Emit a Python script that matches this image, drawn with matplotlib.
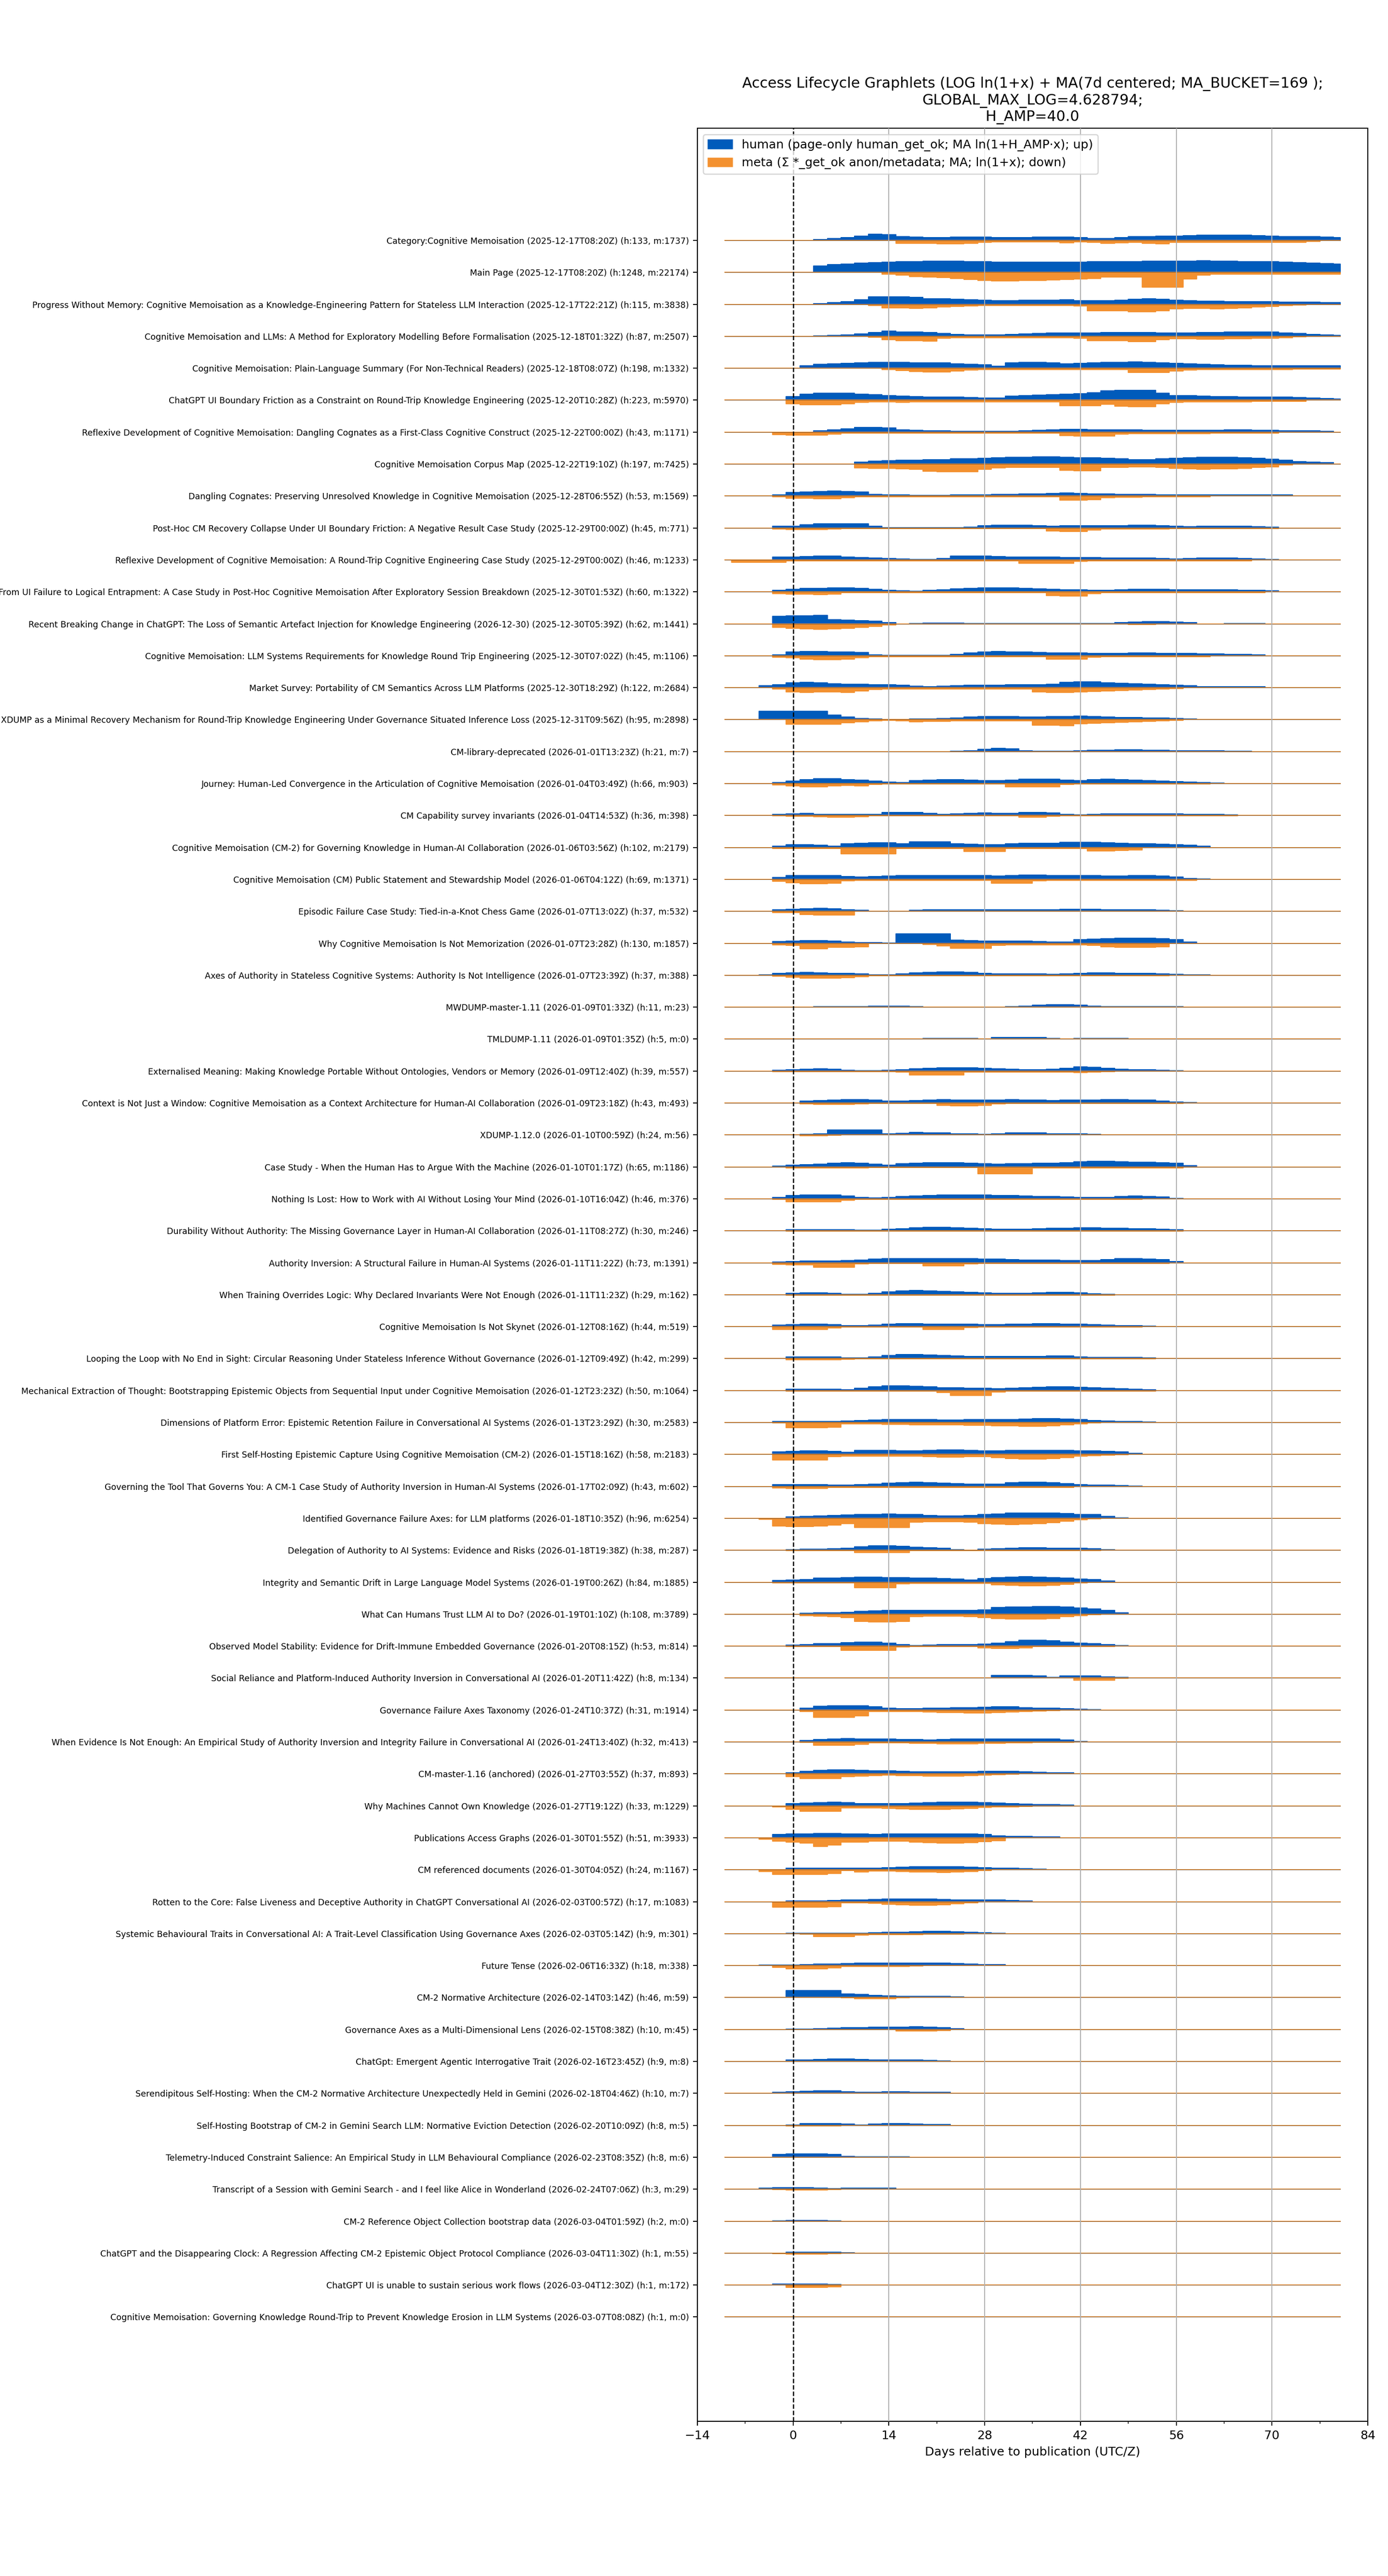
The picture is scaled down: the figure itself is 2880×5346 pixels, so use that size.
import matplotlib
matplotlib.use("Agg")
import matplotlib.pyplot as plt
import numpy as np
from matplotlib.patches import Patch
from matplotlib.ticker import MultipleLocator

BLUE = "#005bbb"
ORANGE = "#f39130"

TITLE = ("Access Lifecycle Graphlets (LOG ln(1+x) + MA(7d centered; MA_BUCKET=169 );\n"
         "GLOBAL_MAX_LOG=4.628794;\nH_AMP=40.0")

LABELS = [
    "Category:Cognitive Memoisation (2025-12-17T08:20Z) (h:133, m:1737)",
    "Main Page (2025-12-17T08:20Z) (h:1248, m:22174)",
    "Progress Without Memory: Cognitive Memoisation as a Knowledge-Engineering Pattern for Stateless LLM Interaction (2025-12-17T22:21Z) (h:115, m:3838)",
    "Cognitive Memoisation and LLMs: A Method for Exploratory Modelling Before Formalisation (2025-12-18T01:32Z) (h:87, m:2507)",
    "Cognitive Memoisation: Plain-Language Summary (For Non-Technical Readers) (2025-12-18T08:07Z) (h:198, m:1332)",
    "ChatGPT UI Boundary Friction as a Constraint on Round-Trip Knowledge Engineering (2025-12-20T10:28Z) (h:223, m:5970)",
    "Reflexive Development of Cognitive Memoisation: Dangling Cognates as a First-Class Cognitive Construct (2025-12-22T00:00Z) (h:43, m:1171)",
    "Cognitive Memoisation Corpus Map (2025-12-22T19:10Z) (h:197, m:7425)",
    "Dangling Cognates: Preserving Unresolved Knowledge in Cognitive Memoisation (2025-12-28T06:55Z) (h:53, m:1569)",
    "Post-Hoc CM Recovery Collapse Under UI Boundary Friction: A Negative Result Case Study (2025-12-29T00:00Z) (h:45, m:771)",
    "Reflexive Development of Cognitive Memoisation: A Round-Trip Cognitive Engineering Case Study (2025-12-29T00:00Z) (h:46, m:1233)",
    "From UI Failure to Logical Entrapment: A Case Study in Post-Hoc Cognitive Memoisation After Exploratory Session Breakdown (2025-12-30T01:53Z) (h:60, m:1322)",
    "Recent Breaking Change in ChatGPT: The Loss of Semantic Artefact Injection for Knowledge Engineering (2026-12-30) (2025-12-30T05:39Z) (h:62, m:1441)",
    "Cognitive Memoisation: LLM Systems Requirements for Knowledge Round Trip Engineering (2025-12-30T07:02Z) (h:45, m:1106)",
    "Market Survey: Portability of CM Semantics Across LLM Platforms (2025-12-30T18:29Z) (h:122, m:2684)",
    "XDUMP as a Minimal Recovery Mechanism for Round-Trip Knowledge Engineering Under Governance Situated Inference Loss (2025-12-31T09:56Z) (h:95, m:2898)",
    "CM-library-deprecated (2026-01-01T13:23Z) (h:21, m:7)",
    "Journey: Human-Led Convergence in the Articulation of Cognitive Memoisation (2026-01-04T03:49Z) (h:66, m:903)",
    "CM Capability survey invariants (2026-01-04T14:53Z) (h:36, m:398)",
    "Cognitive Memoisation (CM-2) for Governing Knowledge in Human-AI Collaboration (2026-01-06T03:56Z) (h:102, m:2179)",
    "Cognitive Memoisation (CM) Public Statement and Stewardship Model (2026-01-06T04:12Z) (h:69, m:1371)",
    "Episodic Failure Case Study: Tied-in-a-Knot Chess Game (2026-01-07T13:02Z) (h:37, m:532)",
    "Why Cognitive Memoisation Is Not Memorization (2026-01-07T23:28Z) (h:130, m:1857)",
    "Axes of Authority in Stateless Cognitive Systems: Authority Is Not Intelligence (2026-01-07T23:39Z) (h:37, m:388)",
    "MWDUMP-master-1.11 (2026-01-09T01:33Z) (h:11, m:23)",
    "TMLDUMP-1.11 (2026-01-09T01:35Z) (h:5, m:0)",
    "Externalised Meaning: Making Knowledge Portable Without Ontologies, Vendors or Memory (2026-01-09T12:40Z) (h:39, m:557)",
    "Context is Not Just a Window: Cognitive Memoisation as a Context Architecture for Human-AI Collaboration (2026-01-09T23:18Z) (h:43, m:493)",
    "XDUMP-1.12.0 (2026-01-10T00:59Z) (h:24, m:56)",
    "Case Study - When the Human Has to Argue With the Machine (2026-01-10T01:17Z) (h:65, m:1186)",
    "Nothing Is Lost: How to Work with AI Without Losing Your Mind (2026-01-10T16:04Z) (h:46, m:376)",
    "Durability Without Authority: The Missing Governance Layer in Human-AI Collaboration (2026-01-11T08:27Z) (h:30, m:246)",
    "Authority Inversion: A Structural Failure in Human-AI Systems (2026-01-11T11:22Z) (h:73, m:1391)",
    "When Training Overrides Logic: Why Declared Invariants Were Not Enough (2026-01-11T11:23Z) (h:29, m:162)",
    "Cognitive Memoisation Is Not Skynet (2026-01-12T08:16Z) (h:44, m:519)",
    "Looping the Loop with No End in Sight: Circular Reasoning Under Stateless Inference Without Governance (2026-01-12T09:49Z) (h:42, m:299)",
    "Mechanical Extraction of Thought: Bootstrapping Epistemic Objects from Sequential Input under Cognitive Memoisation (2026-01-12T23:23Z) (h:50, m:1064)",
    "Dimensions of Platform Error: Epistemic Retention Failure in Conversational AI Systems (2026-01-13T23:29Z) (h:30, m:2583)",
    "First Self-Hosting Epistemic Capture Using Cognitive Memoisation (CM-2) (2026-01-15T18:16Z) (h:58, m:2183)",
    "Governing the Tool That Governs You: A CM-1 Case Study of Authority Inversion in Human-AI Systems (2026-01-17T02:09Z) (h:43, m:602)",
    "Identified Governance Failure Axes: for LLM platforms (2026-01-18T10:35Z) (h:96, m:6254)",
    "Delegation of Authority to AI Systems: Evidence and Risks (2026-01-18T19:38Z) (h:38, m:287)",
    "Integrity and Semantic Drift in Large Language Model Systems (2026-01-19T00:26Z) (h:84, m:1885)",
    "What Can Humans Trust LLM AI to Do? (2026-01-19T01:10Z) (h:108, m:3789)",
    "Observed Model Stability: Evidence for Drift-Immune Embedded Governance (2026-01-20T08:15Z) (h:53, m:814)",
    "Social Reliance and Platform-Induced Authority Inversion in Conversational AI (2026-01-20T11:42Z) (h:8, m:134)",
    "Governance Failure Axes Taxonomy (2026-01-24T10:37Z) (h:31, m:1914)",
    "When Evidence Is Not Enough: An Empirical Study of Authority Inversion and Integrity Failure in Conversational AI (2026-01-24T13:40Z) (h:32, m:413)",
    "CM-master-1.16 (anchored) (2026-01-27T03:55Z) (h:37, m:893)",
    "Why Machines Cannot Own Knowledge (2026-01-27T19:12Z) (h:33, m:1229)",
    "Publications Access Graphs (2026-01-30T01:55Z) (h:51, m:3933)",
    "CM referenced documents (2026-01-30T04:05Z) (h:24, m:1167)",
    "Rotten to the Core: False Liveness and Deceptive Authority in ChatGPT Conversational AI (2026-02-03T00:57Z) (h:17, m:1083)",
    "Systemic Behavioural Traits in Conversational AI: A Trait-Level Classification Using Governance Axes (2026-02-03T05:14Z) (h:9, m:301)",
    "Future Tense (2026-02-06T16:33Z) (h:18, m:338)",
    "CM-2 Normative Architecture (2026-02-14T03:14Z) (h:46, m:59)",
    "Governance Axes as a Multi-Dimensional Lens (2026-02-15T08:38Z) (h:10, m:45)",
    "ChatGpt: Emergent Agentic Interrogative Trait (2026-02-16T23:45Z) (h:9, m:8)",
    "Serendipitous Self-Hosting: When the CM-2 Normative Architecture Unexpectedly Held in Gemini (2026-02-18T04:46Z) (h:10, m:7)",
    "Self-Hosting Bootstrap of CM-2 in Gemini Search LLM: Normative Eviction Detection (2026-02-20T10:09Z) (h:8, m:5)",
    "Telemetry-Induced Constraint Salience: An Empirical Study in LLM Behavioural Compliance (2026-02-23T08:35Z) (h:8, m:6)",
    "Transcript of a Session with Gemini Search - and I feel like Alice in Wonderland (2026-02-24T07:06Z) (h:3, m:29)",
    "CM-2 Reference Object Collection bootstrap data (2026-03-04T01:59Z) (h:2, m:0)",
    "ChatGPT and the Disappearing Clock: A Regression Affecting CM-2 Epistemic Object Protocol Compliance (2026-03-04T11:30Z) (h:1, m:55)",
    "ChatGPT UI is unable to sustain serious work flows (2026-03-04T12:30Z) (h:1, m:172)",
    "Cognitive Memoisation: Governing Knowledge Round-Trip to Prevent Knowledge Erosion in LLM Systems (2026-03-07T08:08Z) (h:1, m:0)",
]

# sample days (every 2 days, relative to publication)
DAYS = list(range(-10, 81, 2))

# smoothed heights, one entry per row:
# (first sampled day, values every 2 days from there; zero elsewhere)
HUMAN = [
    (4, [2, 4, 6, 10, 14, 13, 9, 7, 6, 6, 7, 7, 7, 6, 6, 6, 7, 7, 7, 6, 4, 4, 6, 8, 9, 10, 10, 11, 12, 12, 12, 12, 11, 10, 9, 9, 8, 7, 6]),
    (4, [14, 17, 19, 21, 22, 23, 24, 24, 25, 25, 25, 24, 24, 23, 23, 23, 23, 23, 23, 23, 24, 24, 24, 24, 25, 25, 25, 25, 26, 25, 25, 24, 24, 24, 23, 22, 21, 20, 19]),
    (4, [2, 4, 6, 10, 17, 17, 17, 16, 12, 12, 11, 10, 9, 8, 8, 9, 9, 9, 10, 8, 8, 8, 9, 11, 12, 11, 9, 8, 7, 7, 6, 6, 6, 6, 5, 5, 5, 4, 4]),
    (4, [1, 2, 3, 5, 8, 12, 10, 9, 8, 6, 4, 3, 3, 3, 4, 5, 6, 7, 7, 7, 7, 8, 8, 8, 8, 7, 7, 7, 8, 8, 9, 10, 10, 9, 7, 6, 4, 3, 2]),
    (2, [5, 9, 10, 11, 12, 13, 13, 13, 12, 12, 12, 10, 9, 8, 4, 12, 13, 13, 12, 10, 11, 12, 13, 13, 14, 13, 12, 11, 10, 9, 8, 7, 7, 6, 6, 6, 6, 6, 6, 5]),
    (0, [8, 13, 16, 16, 16, 13, 12, 10, 9, 8, 7, 7, 7, 6, 5, 5, 9, 10, 11, 12, 13, 14, 17, 21, 22, 22, 22, 16, 10, 10, 9, 8, 8, 7, 7, 7, 7, 6, 5, 4, 3]),
    (4, [3, 5, 7, 10, 10, 9, 5, 4, 3, 3, 2, 2, 2, 2, 2, 3, 4, 5, 6, 6, 5, 5, 5, 5, 4, 4, 4, 4, 4, 4, 5, 5, 4, 4, 3, 3, 3, 2]),
    (10, [4, 6, 8, 9, 9, 10, 10, 12, 12, 13, 14, 15, 15, 16, 16, 15, 14, 14, 13, 12, 10, 10, 12, 13, 14, 15, 15, 15, 14, 13, 11, 9, 5, 4, 3]),
    (-2, [2, 8, 9, 10, 11, 10, 9, 4, 3, 3, 1, 1, 1, 2, 2, 3, 4, 4, 5, 5, 6, 7, 6, 5, 5, 4, 4, 4, 3, 3, 2, 2, 3, 3, 3, 3, 2, 2]),
    (-2, [4, 4, 7, 9, 9, 9, 9, 4, 1, 1, 1, 1, 1, 1, 2, 5, 6, 6, 6, 5, 4, 5, 5, 5, 5, 5, 6, 6, 5, 4, 3, 4, 4, 4, 4, 3, 2]),
    (-2, [6, 6, 7, 8, 9, 6, 5, 4, 3, 2, 1, 1, 3, 9, 9, 9, 7, 6, 6, 6, 6, 5, 5, 5, 4, 4, 4, 4, 3, 2, 3, 4, 4, 4, 3, 2, 1]),
    (-2, [3, 6, 8, 8, 9, 9, 8, 6, 4, 2, 1, 3, 5, 7, 8, 9, 9, 9, 8, 7, 6, 5, 5, 4, 4, 5, 6, 6, 6, 5, 5, 5, 5, 5, 4, 3, 2]),
    (-2, [17, 18, 18, 19, 9, 8, 7, 6, 3, 0, 1, 2, 2, 2, 1, 1, 1, 1, 1, 1, 1, 1, 1, 1, 1, 3, 4, 5, 5, 4, 3, 0, 0, 1, 1, 1]),
    (-2, [2, 8, 9, 9, 8, 8, 7, 2, 1, 1, 1, 1, 1, 3, 6, 8, 9, 8, 8, 7, 6, 6, 6, 5, 5, 5, 6, 6, 5, 5, 5, 4, 4, 3, 3, 2]),
    (-4, [4, 7, 11, 12, 11, 9, 8, 8, 7, 7, 5, 3, 2, 3, 4, 5, 6, 6, 7, 7, 7, 8, 12, 13, 13, 11, 10, 9, 8, 7, 6, 4, 2, 2, 2, 2, 2]),
    (-4, [19, 19, 19, 19, 19, 10, 6, 3, 2, 0, 1, 2, 2, 3, 4, 6, 7, 7, 7, 6, 6, 7, 7, 8, 7, 6, 5, 5, 4, 4, 3, 2, 1]),
    (24, [1, 2, 5, 7, 6, 2, 1, 1, 1, 2, 3, 3, 4, 4, 3, 3, 2, 2, 2, 2, 1, 1]),
    (-2, [2, 5, 9, 11, 11, 9, 8, 5, 3, 2, 6, 8, 9, 9, 8, 6, 6, 8, 10, 10, 10, 8, 7, 9, 10, 9, 8, 6, 5, 4, 3, 2, 1]),
    (-2, [3, 4, 5, 3, 2, 2, 2, 3, 7, 7, 7, 5, 3, 4, 5, 6, 5, 5, 7, 7, 6, 3, 1, 3, 4, 4, 4, 4, 4, 4, 3, 3, 2, 1]),
    (-2, [3, 6, 6, 5, 3, 8, 9, 10, 10, 8, 13, 13, 13, 8, 7, 6, 6, 8, 9, 9, 9, 11, 11, 11, 10, 9, 8, 8, 7, 6, 5, 3]),
    (-2, [4, 8, 9, 9, 8, 6, 5, 6, 7, 8, 8, 8, 8, 8, 8, 8, 7, 9, 10, 10, 9, 8, 8, 8, 7, 7, 8, 8, 7, 5, 2, 1]),
    (-2, [3, 5, 6, 7, 6, 4, 2, 0, 0, 0, 2, 3, 3, 4, 4, 4, 4, 4, 4, 4, 4, 5, 5, 5, 4, 4, 3, 3, 2, 1]),
    (-2, [4, 5, 6, 6, 5, 3, 2, 2, 1, 21, 21, 21, 21, 7, 6, 5, 5, 5, 5, 4, 3, 3, 8, 9, 10, 11, 11, 11, 10, 8, 3]),
    (-4, [1, 4, 5, 6, 5, 4, 4, 3, 1, 1, 3, 5, 6, 7, 7, 6, 4, 3, 3, 3, 3, 2, 3, 4, 5, 5, 4, 4, 4, 3, 2, 1, 1]),
    (4, [1, 1, 1, 1, 2, 2, 2, 1, 0, 0, 0, 0, 0, 0, 1, 2, 4, 5, 5, 4, 2, 1, 1, 1, 1, 1, 1]),
    (20, [2, 2, 2, 2, 1, 4, 4, 4, 4, 2, 0, 2, 2, 2, 2]),
    (-2, [2, 3, 4, 5, 4, 2, 1, 1, 2, 3, 5, 6, 7, 7, 7, 6, 5, 4, 3, 3, 4, 6, 9, 8, 6, 4, 3, 3, 2, 1]),
    (2, [4, 5, 6, 8, 8, 7, 4, 4, 5, 7, 8, 7, 6, 6, 7, 8, 7, 6, 5, 6, 7, 7, 8, 8, 7, 6, 4, 2, 1]),
    (2, [1, 2, 11, 11, 11, 11, 3, 4, 6, 5, 5, 3, 2, 1, 2, 5, 5, 5, 3, 2, 2, 1]),
    (-2, [2, 4, 5, 6, 8, 9, 8, 6, 4, 7, 8, 9, 9, 9, 8, 7, 6, 7, 7, 8, 8, 9, 11, 12, 12, 11, 10, 10, 9, 8, 3]),
    (-2, [3, 7, 9, 9, 8, 6, 3, 2, 3, 5, 6, 7, 8, 9, 8, 8, 7, 7, 6, 5, 5, 4, 3, 3, 3, 5, 6, 5, 4, 1]),
    (0, [2, 2, 2, 2, 2, 1, 1, 3, 5, 7, 8, 8, 7, 6, 5, 4, 4, 4, 5, 6, 6, 7, 7, 6, 6, 5, 5, 4, 2]),
    (-2, [2, 3, 4, 4, 4, 5, 6, 8, 9, 9, 9, 9, 9, 9, 9, 8, 8, 7, 6, 6, 6, 5, 5, 5, 7, 9, 9, 8, 7, 3]),
    (0, [3, 4, 4, 3, 1, 1, 3, 6, 8, 9, 8, 7, 6, 5, 4, 3, 3, 3, 4, 5, 5, 4, 2, 1]),
    (-2, [3, 4, 5, 5, 4, 2, 2, 3, 6, 7, 7, 6, 6, 6, 5, 4, 4, 5, 6, 7, 7, 6, 5, 4, 3, 2, 2, 1]),
    (0, [4, 4, 4, 4, 2, 2, 4, 7, 9, 9, 8, 7, 6, 5, 5, 5, 5, 5, 5, 6, 6, 4, 3, 3, 3, 3, 2]),
    (0, [3, 3, 3, 3, 2, 5, 8, 10, 10, 9, 8, 6, 6, 5, 5, 4, 5, 6, 7, 8, 8, 7, 6, 5, 4, 3, 2]),
    (-2, [2, 2, 2, 2, 2, 3, 4, 5, 7, 7, 7, 6, 5, 5, 6, 6, 6, 7, 8, 9, 9, 8, 6, 4, 3, 2, 2, 1]),
    (-2, [6, 7, 8, 8, 7, 5, 9, 9, 9, 8, 8, 9, 10, 10, 9, 8, 8, 9, 9, 9, 9, 9, 8, 8, 7, 6, 2]),
    (-2, [4, 4, 4, 4, 3, 3, 4, 5, 7, 8, 9, 8, 7, 6, 5, 5, 5, 8, 9, 9, 8, 6, 4, 3, 3, 2, 1]),
    (0, [3, 4, 5, 6, 7, 9, 9, 10, 9, 8, 6, 5, 5, 6, 8, 10, 12, 12, 12, 12, 11, 9, 8, 4, 1]),
    (0, [1, 2, 2, 3, 5, 8, 10, 10, 9, 7, 6, 5, 1, 0, 2, 4, 5, 6, 6, 5, 5, 5, 3, 1]),
    (-2, [4, 5, 6, 9, 9, 10, 11, 11, 10, 10, 9, 9, 8, 7, 5, 8, 10, 11, 12, 11, 10, 9, 7, 6, 3]),
    (2, [2, 3, 3, 4, 6, 7, 8, 8, 8, 8, 8, 8, 8, 9, 15, 16, 16, 17, 17, 16, 14, 12, 8, 3]),
    (0, [2, 3, 5, 6, 8, 9, 9, 7, 3, 1, 2, 3, 3, 3, 4, 7, 10, 13, 13, 12, 9, 7, 6, 3, 1]),
    (28, [1, 6, 6, 6, 5, 2, 5, 5, 5, 3, 2]),
    (2, [4, 8, 9, 9, 9, 7, 4, 3, 3, 4, 4, 5, 5, 6, 7, 7, 5, 4, 4, 3, 2, 1]),
    (2, [3, 5, 7, 8, 7, 6, 6, 5, 5, 4, 5, 6, 6, 6, 6, 6, 7, 7, 6, 4, 1]),
    (0, [3, 6, 8, 9, 9, 8, 7, 7, 6, 5, 5, 5, 5, 5, 6, 6, 6, 5, 4, 3, 2]),
    (0, [5, 6, 7, 8, 7, 5, 5, 5, 5, 6, 7, 8, 8, 8, 7, 6, 5, 4, 3, 3, 2]),
    (-2, [7, 8, 9, 10, 10, 9, 8, 7, 8, 8, 8, 9, 9, 9, 9, 7, 4, 3, 3, 2, 2]),
    (0, [3, 3, 4, 4, 4, 3, 4, 5, 6, 7, 7, 7, 7, 6, 5, 4, 3, 2, 1]),
    (0, [2, 2, 2, 3, 4, 4, 5, 6, 6, 6, 6, 5, 4, 4, 4, 4, 3, 2]),
    (0, [1, 1, 1, 1, 1, 1, 2, 3, 3, 4, 5, 5, 4, 3, 2, 1]),
    (-4, [1, 1, 1, 2, 3, 3, 4, 5, 5, 6, 6, 6, 5, 5, 4, 3, 2, 2]),
    (0, [15, 15, 15, 15, 8, 7, 5, 4, 3, 3, 3, 3, 2, 1]),
    (0, [1, 1, 2, 3, 4, 4, 5, 5, 5, 6, 5, 4, 2]),
    (0, [3, 3, 4, 5, 5, 4, 3, 3, 3, 3, 2, 1]),
    (-2, [2, 4, 5, 6, 6, 4, 3, 2, 4, 4, 3, 2, 2]),
    (0, [1, 4, 4, 4, 3, 1, 3, 4, 4, 3, 2, 2]),
    (-2, [6, 7, 7, 7, 6, 2, 1, 1, 1, 1]),
    (-4, [2, 3, 3, 3, 2, 1, 2, 2, 2, 2]),
    (-2, [1, 2, 2, 2, 1]),
    (0, [2, 2, 2, 2, 1]),
    (-2, [2, 2, 2, 2, 1]),
    (-4, [1, 1, 1, 1]),
]

META = [
    (16, [6, 7, 6, 8, 8, 7, 4, 3, 3, 3, 3, 3, 5, 3, 4, 6, 5, 4, 7, 8, 4, 4, 4, 4, 4, 4, 4, 4, 4, 4, 2]),
    (14, [4, 6, 9, 11, 12, 14, 16, 18, 19, 19, 18, 18, 17, 16, 15, 14, 11, 10, 10, 33, 33, 33, 15, 6, 4, 4, 4, 4, 4, 4, 4, 4, 4, 4]),
    (12, [3, 8, 8, 9, 8, 6, 5, 4, 3, 3, 3, 3, 3, 3, 3, 4, 14, 14, 14, 17, 17, 14, 10, 9, 9, 10, 9, 8, 6, 5, 3, 2, 1]),
    (12, [2, 8, 10, 10, 11, 4, 3, 3, 3, 3, 3, 3, 3, 3, 3, 4, 10, 10, 10, 12, 12, 8, 6, 6, 7, 7, 6, 6, 5, 4, 3, 1]),
    (14, [3, 5, 7, 8, 8, 6, 4, 3, 3, 3, 3, 3, 3, 3, 3, 3, 3, 3, 10, 10, 10, 6, 4, 3, 3, 3, 3, 3, 3, 3, 2, 2, 2, 2]),
    (0, [8, 10, 10, 10, 8, 5, 4, 4, 5, 4, 4, 4, 4, 4, 4, 4, 4, 4, 4, 4, 12, 12, 12, 9, 14, 15, 15, 8, 5, 4, 4, 4, 4, 4, 3, 3, 3, 3]),
    (-2, [6, 7, 7, 7, 5, 2, 2, 2, 2, 2, 2, 2, 2, 2, 2, 2, 2, 2, 2, 2, 2, 8, 9, 9, 9, 5, 4, 3, 3, 3, 3, 3, 2, 2, 2, 2, 2]),
    (10, [9, 10, 10, 11, 12, 16, 17, 17, 17, 12, 9, 8, 7, 7, 7, 14, 15, 15, 8, 7, 6, 6, 7, 10, 11, 12, 11, 11, 10, 8, 6, 2]),
    (-2, [2, 5, 5, 6, 6, 4, 2, 2, 2, 2, 2, 2, 2, 2, 2, 2, 2, 2, 2, 2, 2, 9, 9, 8, 4, 3, 3, 2, 2, 2, 2, 2]),
    (-2, [3, 4, 4, 4, 3, 1, 1, 1, 1, 1, 1, 1, 1, 1, 1, 1, 1, 1, 1, 1, 7, 8, 8, 5, 2, 2, 2, 2, 2, 1, 1, 1, 1, 1, 1, 1, 1]),
    (-8, [5, 5, 5, 5, 2, 2, 2, 2, 2, 2, 2, 2, 2, 2, 2, 2, 2, 2, 2, 2, 2, 8, 8, 8, 8, 3, 2, 2, 2, 2, 2, 2, 2, 2, 2, 2, 2, 2]),
    (-2, [4, 5, 5, 6, 5, 2, 2, 2, 2, 2, 2, 2, 2, 2, 2, 2, 2, 2, 2, 2, 8, 9, 9, 4, 2, 2, 2, 2, 2, 2, 2, 2, 2, 2, 2, 2]),
    (-2, [8, 10, 11, 12, 11, 10, 8, 6, 3, 1, 1, 1, 1, 1, 1, 1, 1, 1, 1, 1, 1, 1, 1, 1, 1, 1, 2, 2, 1, 1, 1]),
    (-2, [3, 5, 8, 9, 9, 8, 5, 2, 2, 2, 2, 2, 2, 2, 2, 2, 2, 2, 2, 2, 8, 8, 8, 3, 2, 2, 2, 2, 2, 2, 2, 2]),
    (-2, [3, 10, 11, 10, 10, 11, 7, 4, 3, 3, 3, 3, 3, 3, 3, 3, 3, 3, 3, 10, 11, 11, 9, 8, 7, 6, 5, 4, 3, 2]),
    (0, [10, 10, 10, 10, 7, 5, 3, 2, 3, 5, 4, 4, 3, 3, 3, 3, 3, 3, 12, 12, 14, 9, 8, 7, 6, 5, 4, 3, 2]),
    (0, []),
    (-2, [3, 5, 7, 7, 5, 4, 5, 2, 1, 1, 1, 1, 1, 1, 1, 1, 1, 7, 7, 7, 7, 2, 1, 1, 1, 1, 1, 1, 1, 1, 1, 1]),
    (-2, [1, 2, 2, 3, 4, 4, 3, 1, 1, 1, 1, 1, 1, 1, 1, 1, 1, 1, 4, 4, 2, 1, 1, 1, 1, 1, 1, 1, 1, 1, 1, 1, 1, 1]),
    (-2, [2, 3, 3, 3, 3, 14, 14, 14, 14, 3, 3, 3, 3, 3, 9, 9, 9, 3, 3, 3, 3, 3, 3, 8, 8, 7, 6]),
    (-2, [4, 8, 10, 10, 9, 3, 2, 2, 2, 2, 2, 2, 2, 2, 2, 2, 9, 9, 9, 3, 2, 2, 2, 2, 2, 2, 2, 2, 2, 2, 2]),
    (-2, [3, 3, 7, 8, 8, 8]),
    (-2, [4, 5, 12, 12, 9, 9, 8, 1, 1, 1, 1, 3, 6, 11, 11, 11, 5, 4, 4, 4, 4, 4, 4, 5, 8, 9, 9, 9, 8]),
    (-2, [2, 5, 7, 7, 7, 6, 3, 1, 1, 1, 1, 1, 1, 1, 1, 1, 1, 1, 1, 1, 1, 1, 1, 1, 1, 1, 1, 1, 1]),
    (0, []),
    (0, []),
    (-2, [1, 1, 1, 1, 1, 1, 1, 1, 1, 2, 9, 9, 9, 9, 2, 2, 2, 2, 2, 2, 2, 2, 3, 2, 1]),
    (2, [2, 3, 3, 3, 2, 1, 1, 1, 1, 1, 5, 6, 6, 5, 2, 1, 1, 1, 1, 1, 1, 1, 1, 1, 1, 1, 1, 1]),
    (2, [2, 2, 1]),
    (0, [2, 2, 2, 2, 2, 2, 1, 1, 1, 1, 1, 1, 1, 1, 15, 15, 15, 15, 2, 2, 2, 2, 2, 2, 2, 2, 2, 2, 2]),
    (-2, [1, 6, 6, 6, 6, 3, 1, 1, 1, 1, 1, 1, 1, 1, 1, 1, 1, 1, 1, 1, 1, 1, 1, 1, 1, 1, 1]),
    (0, [1, 1, 1, 1, 1, 1, 1, 1, 1, 1, 1, 1, 1, 1, 1, 1, 1, 1, 1, 1, 1, 1, 1, 1, 1, 1, 1, 1, 1]),
    (-2, [4, 5, 5, 10, 10, 10, 3, 2, 2, 2, 2, 7, 7, 7, 3, 2, 2, 2, 2, 2, 2, 2, 2, 2, 2, 2, 2, 2, 2]),
    (0, [1, 1, 1, 1, 1, 1, 1, 1, 1, 1, 1, 1, 1, 1, 1, 1, 1, 1, 1, 1, 1, 1, 1, 1]),
    (-2, [6, 6, 6, 6, 3, 1, 1, 1, 1, 1, 1, 6, 6, 6, 2, 1, 1, 1, 1, 1, 1, 1, 1, 1, 1, 1, 1]),
    (0, [3, 3, 3, 3, 2, 1, 1, 1, 1, 1, 1, 1, 1, 1, 1, 1, 1, 1, 1, 1, 1, 1, 1, 1, 1, 1, 1]),
    (0, [1, 1, 1, 1, 1, 1, 1, 1, 1, 1, 1, 5, 11, 11, 11, 3, 1, 1, 1, 1, 1, 1, 1, 1, 1, 1, 1]),
    (-2, [1, 12, 12, 12, 11, 3, 3, 3, 4, 4, 5, 5, 5, 5, 6, 6, 7, 8, 9, 9, 8, 5, 3, 1]),
    (-2, [13, 13, 13, 12, 5, 4, 4, 4, 4, 4, 4, 5, 6, 6, 5, 5, 7, 9, 10, 10, 9, 7, 4, 3, 2, 1]),
    (-2, [4, 5, 5, 5, 3, 2, 2, 2, 2, 2, 2, 2, 2, 2, 2, 2, 2, 2, 2, 2, 2, 2]),
    (-4, [2, 17, 18, 18, 17, 15, 12, 20, 20, 20, 20, 9, 8, 8, 8, 9, 12, 13, 14, 13, 12, 10, 6, 3, 1]),
    (0, [1, 1, 1, 1, 1, 5, 5, 5, 5, 1, 1, 1, 1, 1, 1, 1, 1, 1, 1, 1, 1, 1, 1]),
    (-2, [2, 2, 2, 2, 2, 2, 12, 12, 12, 4, 3, 3, 3, 3, 3, 3, 6, 7, 8, 8, 7, 5, 2]),
    (2, [3, 5, 6, 8, 16, 17, 17, 16, 6, 5, 5, 5, 6, 8, 10, 11, 11, 11, 10, 6, 3, 1]),
    (0, [1, 1, 1, 1, 9, 9, 9, 9, 2, 1, 1, 1, 1, 1, 4, 5, 5, 4, 1, 1, 1, 1, 1, 1]),
    (42, [5, 5, 5, 1]),
    (2, [4, 16, 16, 16, 13, 4, 3, 3, 4, 5, 6, 6, 7, 7, 6, 5, 3, 2, 1]),
    (2, [1, 7, 7, 7, 5, 2, 2, 2, 3, 3, 4, 4, 4, 3, 3, 2, 2, 1, 1, 1]),
    (0, [6, 10, 10, 10, 6, 5, 4, 3, 4, 4, 5, 5, 5, 4, 3, 2, 1]),
    (-2, [2, 8, 12, 12, 12, 5, 5, 5, 6, 7, 8, 8, 8, 7, 6, 4, 3, 2, 1]),
    (-4, [3, 8, 10, 12, 19, 16, 10, 10, 8, 8, 8, 10, 11, 12, 12, 11, 9, 7]),
    (-4, [4, 10, 10, 10, 10, 8, 2, 5, 3, 3, 4, 5, 5, 6, 5, 4, 2]),
    (-2, [12, 12, 12, 12, 11, 3, 3, 4, 6, 7, 8, 8, 7, 5, 3, 1]),
    (2, [1, 7, 7, 7, 3, 2, 2, 2, 2, 1, 1, 1]),
    (-2, [4, 7, 7, 7, 5, 2, 2, 2, 2, 2, 1]),
    (8, [1, 3, 3, 3, 1]),
    (16, [3, 3, 3, 2]),
    (0, []),
    (0, []),
    (0, [1, 1, 1, 1]),
    (0, []),
    (-2, [1, 2, 2, 2, 1]),
    (0, []),
    (-2, [1, 2, 2, 2, 1]),
    (0, [5, 5, 5, 4]),
    (0, []),
]

ROW_PX = 71.2  # picture units per row spacing


def series(start, vals):
    out = np.zeros(len(DAYS))
    k = DAYS.index(start)
    out[k:k + len(vals)] = vals
    return out / ROW_PX


fig = plt.figure(figsize=(16, 29.7), dpi=180)
ax = fig.add_axes([0.5024, 0.0600, 0.4830, 0.8902])

x = np.array(DAYS)
for i, (h, m) in enumerate(zip(HUMAN, META)):
    base = -i
    hv = series(*h)
    mv = series(*m)
    ax.fill_between(x, base, base + hv, step="mid", facecolor=BLUE,
                    edgecolor=BLUE, lw=0.8, zorder=2)
    ax.fill_between(x, base, base - mv, step="mid", facecolor=ORANGE,
                    edgecolor=ORANGE, lw=0.8, zorder=2.1)
    ax.plot(x, np.full(len(x), base), color="#333333", lw=0.4, alpha=0.6, zorder=2.2)

for d in range(14, 84, 14):
    ax.axvline(d, color="#b0b0b0", lw=0.8, zorder=3)
ax.axvline(0, color="black", lw=1.0, ls="--", zorder=4)

ax.set_xlim(-14, 84)
ax.set_ylim(-68.27, 3.51)
ax.xaxis.set_major_locator(MultipleLocator(14))
ax.xaxis.set_minor_locator(MultipleLocator(7))
ax.set_yticks([-i for i in range(len(LABELS))])
ax.set_yticklabels(LABELS, fontsize=7)
ax.tick_params(axis="x", labelsize=10)
ax.set_xlabel("Days relative to publication (UTC/Z)", fontsize=10)
ax.set_title(TITLE, fontsize=12)

handles = [Patch(facecolor=BLUE, edgecolor=BLUE),
           Patch(facecolor=ORANGE, edgecolor=ORANGE)]
ax.legend(handles,
          ["human (page-only human_get_ok; MA ln(1+H_AMP·x); up)",
           "meta (Σ *_get_ok anon/metadata; MA; ln(1+x); down)"],
          loc="upper left", fontsize=10)

fig.savefig("out.png", dpi=180)
